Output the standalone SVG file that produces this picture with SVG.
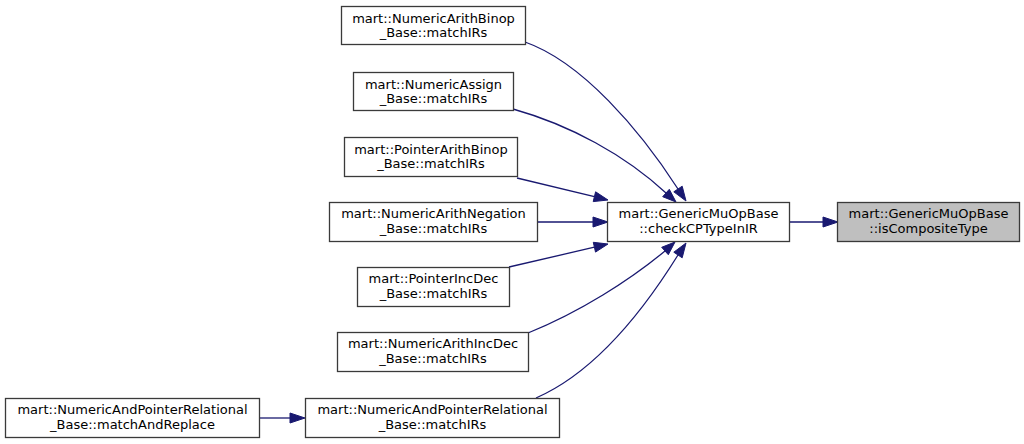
<svg xmlns="http://www.w3.org/2000/svg" width="1024" height="444" viewBox="0 0 1024 444">
<style>
.box{fill:#ffffff;stroke:#3a3a3a;stroke-width:1.3}
.hl{fill:#bfbfbf;stroke:#3a3a3a;stroke-width:1.3}
text{font-family:"DejaVu Sans",sans-serif;font-size:13px;fill:#000;text-anchor:middle}
.e{fill:none;stroke:#191970;stroke-width:1.3}
.ah{fill:#191970;stroke:#191970;stroke-width:1}
</style>
<rect x="0" y="0" width="1024" height="444" fill="#ffffff"/>
<g id="connectors">
<path class="e" d="M525,42 C582,62 640,130 678,189"/>
<polygon class="ah" points="673.8,191.8 682.2,186.2 686,201"/>
<path class="e" d="M513,109 C570,125 625,155 666,193"/>
<polygon class="ah" points="662.7,196.7 669.3,189.3 676,202"/>
<path class="e" d="M517,178 L594.4,196.7"/>
<polygon class="ah" points="593.2,201.6 595.6,191.8 608,200"/>
<path class="e" d="M537,222 L593,222"/>
<polygon class="ah" points="593,217 593,227 608,222"/>
<path class="e" d="M509,267 L594.4,247.2"/>
<polygon class="ah" points="595.5,252.1 593.3,242.3 608,244"/>
<path class="e" d="M528,333 C580,312 630,280 665,251"/>
<polygon class="ah" points="668.3,254.7 661.7,247.3 675,242"/>
<path class="e" d="M536,398 C600,370 650,300 678,255"/>
<polygon class="ah" points="682.2,257.8 673.8,252.2 686,243"/>
<path class="e" d="M789,222 L823,222"/>
<polygon class="ah" points="823,217 823,227 838,222"/>
<path class="e" d="M260,418 L290,418"/>
<polygon class="ah" points="290,413 290,423 305,418"/>
</g>
<g id="target">
<rect class="hl" x="837.5" y="202.5" width="182" height="39"/>
<text x="928.5" y="218">mart::GenericMuOpBase</text>
<text x="928.5" y="232.5">::isCompositeType</text>
</g>
<g id="checkCPTypeInIR">
<rect class="box" x="607.5" y="202.5" width="182" height="39"/>
<text x="698.5" y="218">mart::GenericMuOpBase</text>
<text x="698.5" y="232.5">::checkCPTypeInIR</text>
</g>
<g id="n1">
<rect class="box" x="341.5" y="6.5" width="184" height="38"/>
<text x="433.5" y="22.5">mart::NumericArithBinop</text>
<text x="433.5" y="37">_Base::matchIRs</text>
</g>
<g id="n2">
<rect class="box" x="353.5" y="72.5" width="160" height="38"/>
<text x="433.5" y="88.5">mart::NumericAssign</text>
<text x="433.5" y="103">_Base::matchIRs</text>
</g>
<g id="n3">
<rect class="box" x="344.5" y="137.5" width="173" height="39"/>
<text x="431" y="153.5">mart::PointerArithBinop</text>
<text x="431" y="168">_Base::matchIRs</text>
</g>
<g id="n4">
<rect class="box" x="329.5" y="202.5" width="208" height="39"/>
<text x="433.5" y="218">mart::NumericArithNegation</text>
<text x="433.5" y="232.5">_Base::matchIRs</text>
</g>
<g id="n5">
<rect class="box" x="357.5" y="267.5" width="152" height="39"/>
<text x="433.5" y="283">mart::PointerIncDec</text>
<text x="433.5" y="297.5">_Base::matchIRs</text>
</g>
<g id="n6">
<rect class="box" x="337.5" y="332.5" width="191" height="39"/>
<text x="433" y="348">mart::NumericArithIncDec</text>
<text x="433" y="362.5">_Base::matchIRs</text>
</g>
<g id="n7">
<rect class="box" x="305.5" y="398.5" width="254" height="39"/>
<text x="432.5" y="414">mart::NumericAndPointerRelational</text>
<text x="432.5" y="428.5">_Base::matchIRs</text>
</g>
<g id="n8">
<rect class="box" x="5.5" y="398.5" width="254" height="39"/>
<text x="132.5" y="414">mart::NumericAndPointerRelational</text>
<text x="132.5" y="428.5">_Base::matchAndReplace</text>
</g>
</svg>
